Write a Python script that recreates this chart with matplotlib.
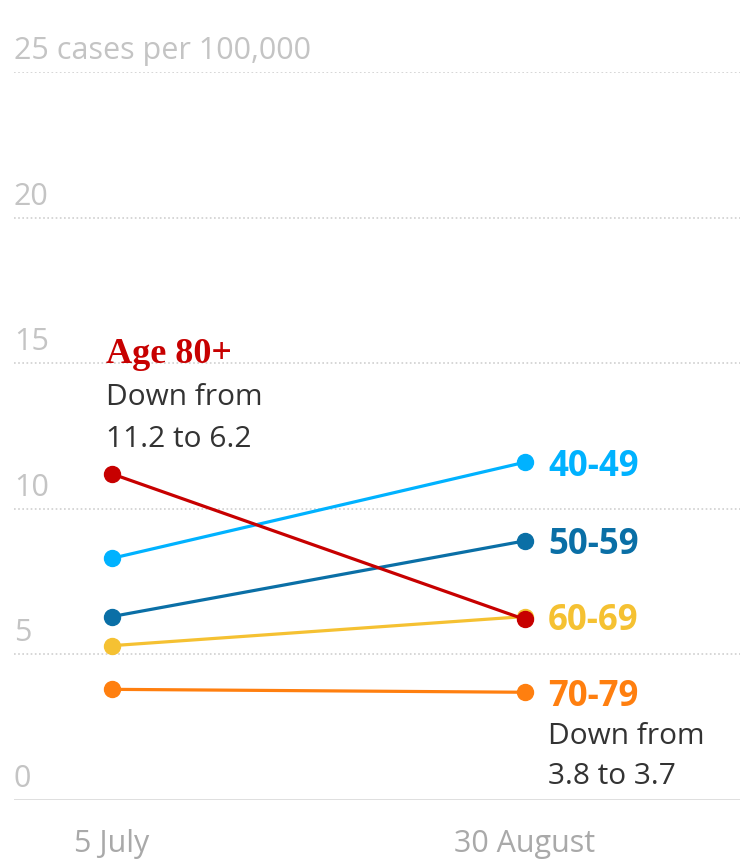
import matplotlib
matplotlib.use("Agg")
import matplotlib.pyplot as plt
from matplotlib.transforms import offset_copy

# ---- data ----
dates = ["5 July", "30 August"]
groups = ["40-49", "50-59", "60-69", "70-79", "Age 80+"]
start_vals = [8.3, 6.3, 5.3, 3.8, 11.2]
end_vals = [11.6, 8.9, 6.3, 3.7, 6.2]
colors = ["#00b2ff", "#0a6fa6", "#f5c132", "#ff7f0f", "#c70000"]
yticks = [0, 5, 10, 15, 20, 25]
ytick_labels = ["0", "5", "10", "15", "20", "25 cases per 100,000"]

SANS = ["Open Sans", "DejaVu Sans"]
SERIF = ["Liberation Serif", "DejaVu Serif"]
plt.rcParams["font.family"] = SANS

fig = plt.figure(figsize=(7.45, 8.59), dpi=100)
W, H = 745, 859
ax = fig.add_axes([14 / W, (H - 800) / H, 726 / W, 728 / H])
xpx0, xpx1 = 112, 525
ppu = xpx1 - xpx0
ax.set_xlim((14 - xpx0) / ppu, (740 - xpx0) / ppu)
ax.set_ylim(0, 25)
for s in ax.spines.values():
    s.set_visible(False)
ax.set_xticks([])
ax.set_yticks([])

PT = 0.72  # points per pixel at 100 dpi

# grid
for v in yticks[1:]:
    ax.axhline(v, color="#cfcfcf", lw=1.2, ls=(0, (1, 1.5)), zorder=0)
ax.axhline(0, color="#dcdcdc", lw=2, zorder=0)

# y labels
ytr = offset_copy(ax.get_yaxis_transform(), fig=fig, x=0, y=13, units="dots")
for v, lab in zip(yticks, ytick_labels):
    ax.text(0, v, lab, transform=ytr, ha="left", va="baseline",
            fontsize=22, color="#c4c4c4")

# x labels
xtr = offset_copy(ax.get_xaxis_transform(), fig=fig, x=0, y=-52, units="dots")
for i, d in enumerate(dates):
    ax.text(i, 0, d, transform=xtr, ha="center", va="baseline",
            fontsize=22, color="#a9a9a9")

# lines
xs = [0, 1]
for g, s, e, c in zip(groups, start_vals, end_vals, colors):
    ax.plot(xs, [s, e], color=c, lw=2.3, marker="o", ms=11.5,
            solid_capstyle="round", zorder=3, clip_on=False)

# end labels
for g, e, c in zip(groups[:4], end_vals[:4], colors[:4]):
    ax.annotate(g, (1, e), xytext=(23 * PT, 0), textcoords="offset points",
                ha="left", va="center_baseline", fontsize=25, fontweight="bold", color=c)

# annotations
for line, dy in [("Down from", -52), ("3.8 to 3.7", -92)]:
    ax.annotate(line, (1, end_vals[3]), xytext=(23 * PT, dy * PT),
                textcoords="offset points", ha="left", va="baseline",
                fontsize=21.5, color="#333333")

ax.annotate("Age 80+", (0, start_vals[4]), xytext=(-6 * PT, 111 * PT),
            textcoords="offset points", ha="left", va="baseline", fontsize=26,
            fontweight="bold", color="#c70000", family=SERIF)
for line, dy in [("Down from", 69), ("11.2 to 6.2", 27)]:
    ax.annotate(line, (0, start_vals[4]), xytext=(-6 * PT, dy * PT),
                textcoords="offset points", ha="left", va="baseline",
                fontsize=21.5, color="#333333")

fig.savefig("out.png", dpi=100)
